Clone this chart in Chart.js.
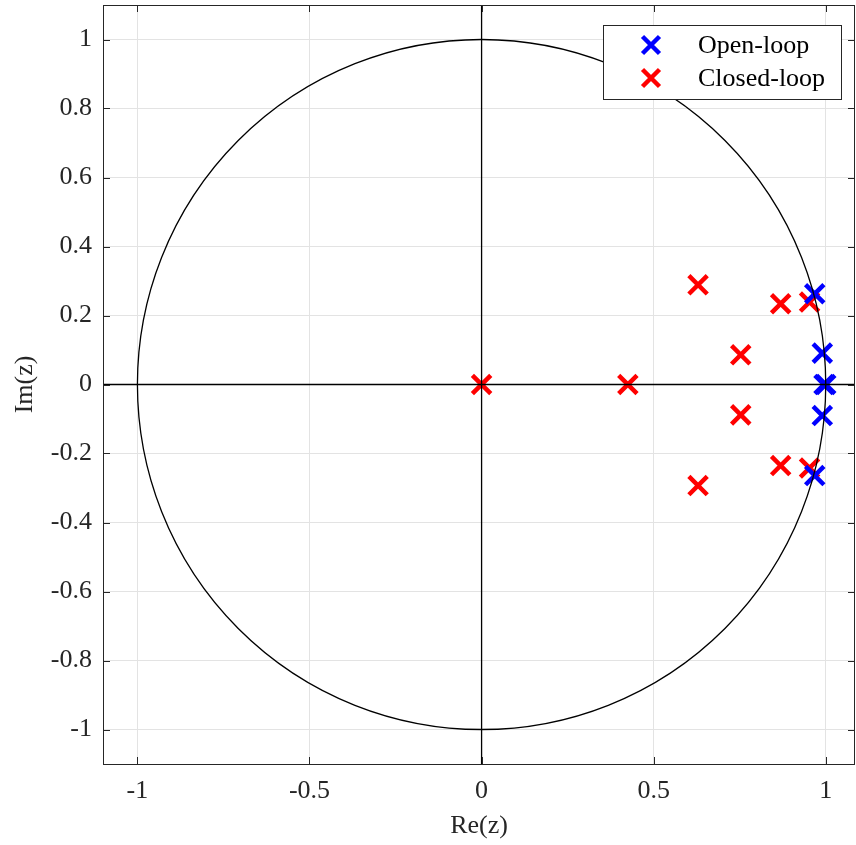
<!DOCTYPE html>
<html>
<head>
<meta charset="utf-8">
<script src="https://cdn.jsdelivr.net/npm/chart.js@4.4.1/dist/chart.umd.min.js"></script>
<style>
  body { margin: 0; background: #fff; }
</style>
</head>
<body>
<canvas id="pzChart" width="856" height="845"></canvas>
<script>
// pole locations
const openRe   = [0.968, 0.990, 0.995, 1.000, 0.990, 0.968];
const openIm   = [0.263, 0.091, 0.000, 0.000, -0.090, -0.264];
const closedRe = [0.629, 0.869, 0.953, 0.753, 0.000, 0.425, 0.753, 0.869, 0.953, 0.629];
const closedIm = [0.289, 0.234, 0.239, 0.086, 0.000, 0.000, -0.088, -0.235, -0.242, -0.293];

const xTicks = [-1, -0.5, 0, 0.5, 1];
const yTicks = [-1, -0.8, -0.6, -0.4, -0.2, 0, 0.2, 0.4, 0.6, 0.8, 1];
const xTickLabels = ['-1', '-0.5', '0', '0.5', '1'];
const yTickLabels = ['-1', '-0.8', '-0.6', '-0.4', '-0.2', '0', '0.2', '0.4', '0.6', '0.8', '1'];
const seriesNames = ['Open-loop', 'Closed-loop'];
const seriesColors = ['#0000ff', '#ff0000'];

const FONT = "'Liberation Serif', 'Times New Roman', serif";
const textColor = '#262626';

function toPoints(re, im) {
    return re.map((v, i) => ({ x: v, y: im[i] }));
}

// no extra room for overflowing tick labels, the chart area is fixed
function noPad(s) {
    s.paddingTop = 0; s.paddingBottom = 0;
    s.paddingLeft = 0; s.paddingRight = 0;
}

// axes through origin, unit circle, inward ticks, box and legend
const overlay = {
    id: 'overlay',
    afterDatasetsDraw(chart) {
        const { ctx, chartArea: a, scales: { x, y } } = chart;
        const x0 = x.getPixelForValue(0);
        const y0 = y.getPixelForValue(0);
        ctx.save();
        ctx.beginPath();
        ctx.rect(a.left, a.top, a.right - a.left, a.bottom - a.top);
        ctx.clip();
        ctx.strokeStyle = '#000';
        ctx.lineWidth = 1.3;
        ctx.beginPath();
        ctx.moveTo(x0, a.top); ctx.lineTo(x0, a.bottom);
        ctx.moveTo(a.left, y0); ctx.lineTo(a.right, y0);
        ctx.stroke();
        const rx = x.getPixelForValue(1) - x0;
        const ry = y0 - y.getPixelForValue(1);
        ctx.beginPath();
        ctx.ellipse(x0, y0, rx, ry, 0, 0, Math.PI * 2);
        ctx.stroke();
        ctx.restore();

        // inward ticks
        ctx.save();
        ctx.strokeStyle = textColor;
        ctx.lineWidth = 1;
        const tl = 7;
        ctx.beginPath();
        xTicks.forEach(v => {
            const px = Math.round(x.getPixelForValue(v)) + 0.5;
            ctx.moveTo(px, a.bottom); ctx.lineTo(px, a.bottom - tl);
            ctx.moveTo(px, a.top); ctx.lineTo(px, a.top + tl);
        });
        yTicks.forEach(v => {
            const py = Math.round(y.getPixelForValue(v)) + 0.5;
            ctx.moveTo(a.left, py); ctx.lineTo(a.left + tl, py);
            ctx.moveTo(a.right, py); ctx.lineTo(a.right - tl, py);
        });
        ctx.stroke();
        ctx.strokeRect(Math.round(a.left) + 0.5, Math.round(a.top) + 0.5,
                       Math.round(a.right - a.left) - 1, Math.round(a.bottom - a.top));
        ctx.restore();

        // legend box
        ctx.save();
        const bx = 603, by = 25, bw = 238, bh = 74;
        ctx.fillStyle = '#fff';
        ctx.fillRect(bx, by, bw, bh);
        ctx.strokeStyle = textColor;
        ctx.lineWidth = 1;
        ctx.strokeRect(bx + 0.5, by + 0.5, bw, bh);
        ctx.font = '26px ' + FONT;
        ctx.textBaseline = 'middle';
        ctx.textAlign = 'left';
        seriesNames.forEach((name, i) => {
            const ly = by + 20 + i * 33;
            ctx.strokeStyle = seriesColors[i];
            ctx.lineWidth = 4.5;
            const s = 8.5;
            ctx.beginPath();
            ctx.moveTo(651 - s, ly - s); ctx.lineTo(651 + s, ly + s);
            ctx.moveTo(651 + s, ly - s); ctx.lineTo(651 - s, ly + s);
            ctx.stroke();
            ctx.fillStyle = '#000';
            ctx.fillText(name, 698, ly + 1);
        });
        ctx.restore();
    }
};

const pointOpts = {
    pointStyle: 'crossRot',
    pointRadius: 13,
    pointHoverRadius: 13,
    pointBorderWidth: 4.5,
    pointHoverBorderWidth: 4.5
};

new Chart(document.getElementById('pzChart'), {
    type: 'scatter',
    data: {
        datasets: [
            Object.assign({
                label: seriesNames[0],
                data: toPoints(openRe, openIm),
                borderColor: seriesColors[0],
                backgroundColor: seriesColors[0]
            }, pointOpts),
            Object.assign({
                label: seriesNames[1],
                data: toPoints(closedRe, closedIm),
                borderColor: seriesColors[1],
                backgroundColor: seriesColors[1]
            }, pointOpts)
        ]
    },
    options: {
        responsive: false,
        animation: false,
        layout: { autoPadding: false, padding: { top: 5, right: 1, left: 0, bottom: 0 } },
        plugins: {
            legend: { display: false },
            tooltip: { enabled: false }
        },
        scales: {
            x: {
                type: 'linear',
                min: -1.1,
                max: 1.085,
                afterBuildTicks: s => { s.ticks = xTicks.map(v => ({ value: v })); },
                afterFit: s => { s.height = 81; noPad(s); },
                grid: { color: '#e3e3e3', drawTicks: false },
                border: { display: false },
                ticks: {
                    padding: 12,
                    color: textColor,
                    font: { family: FONT, size: 26 },
                    callback: (v) => xTickLabels[xTicks.indexOf(v)]
                },
                title: {
                    display: true,
                    text: 'Re(z)',
                    color: textColor,
                    font: { family: FONT, size: 26 },
                    padding: { top: 0, bottom: 3 }
                }
            },
            y: {
                type: 'linear',
                min: -1.1,
                max: 1.1,
                afterBuildTicks: s => { s.ticks = yTicks.map(v => ({ value: v })); },
                afterFit: s => { s.width = 103; noPad(s); },
                grid: { color: '#e3e3e3', drawTicks: false },
                border: { display: false },
                ticks: {
                    padding: 11,
                    color: textColor,
                    font: { family: FONT, size: 26 },
                    callback: (v) => yTickLabels[yTicks.indexOf(v)]
                },
                title: {
                    display: true,
                    text: 'Im(z)',
                    color: textColor,
                    font: { family: FONT, size: 26 },
                    padding: { top: 10, bottom: 0 }
                }
            }
        }
    },
    plugins: [overlay]
});
</script>
</body>
</html>
